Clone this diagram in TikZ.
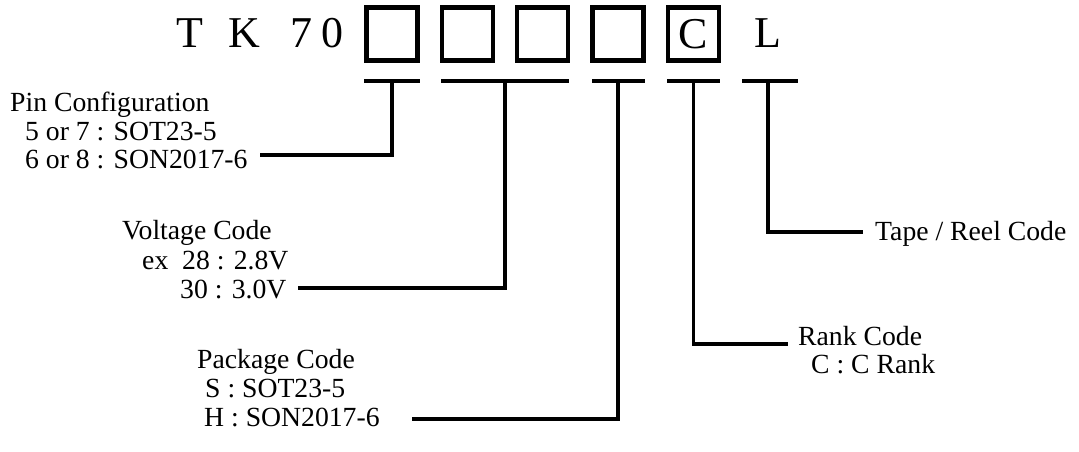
\documentclass[tikz,border=0pt]{standalone}
\usepackage{fontspec}
\setmainfont{Liberation Serif}
\tikzset{
  digit/.style={anchor=base west, inner sep=0pt, font=\fontsize{44}{48}\selectfont},
  slot/.style={draw, line width=4.5pt, minimum width=51pt, minimum height=53pt,
    inner sep=0pt, font=\fontsize{44}{48}\selectfont},
  code/.style={anchor=base west, inner sep=0pt, font=\fontsize{27.7}{30}\selectfont},
  lead/.style={line width=3.5pt, line join=miter},
}

\begin{document}
\begin{tikzpicture}[x=1pt,y=-1pt]
    \useasboundingbox (0,0) rectangle (1079,452);
    % part number
    \foreach \c/\x in {T/176,K/228,7/290,0/321}
      \node[digit] (d\c) at (\x,48) {\c};
    \foreach \n/\x in {1/392,2/467.5,3/542.5,4/618}
      \node[slot] (s\n) at (\x,34) {};
    \node[slot] (sC) at (693.5,34) {C};
    \node[digit,anchor=base] (dL) at (768,48) {L};
    % underlines
    \draw[lead] (364,81) -- (420,81);
    \draw[lead] (441,81) -- (569,81);
    \draw[lead] (592,81) -- (645,81);
    \draw[lead] (667,81) -- (720,81);
    \draw[lead] (742,81) -- (798,81);
    % leader ends
    \coordinate (pin)  at (260,155);
    \coordinate (volt) at (298,288);
    \coordinate (pack) at (412,419);
    \coordinate (rank) at (788,344);
    \coordinate (tape) at (863,232);
    \draw[lead] (s1.center |- 0,81) |- (pin);
    \draw[lead] (505,81) |- (volt);
    \draw[lead] (s4.center |- 0,81) |- (pack);
    \draw[lead] (sC.center |- 0,81) |- (rank);
    \draw[lead] (dL.center |- 0,81) |- (tape);
    % labels
    \node[code] (pinT) at (10,111) {Pin Configuration};
    \node[code] (pinA) at (25,140) {5 or 7 : SOT23-5};
    \node[code] (pinB) at (25,168) {6 or 8 : SON2017-6};
    \node[code] (voltT) at (122,239) {Voltage Code};
    \node[code] (voltA) at (142,269) {ex\ \ 28 : 2.8V};
    \node[code] (voltB) at (180,298) {30 : 3.0V};
    \node[code] (packT) at (197,368) {Package Code};
    \node[code] (packA) at (205,397) {S : SOT23-5};
    \node[code] (packB) at (204,426) {H : SON2017-6};
    \node[code] (rankT) at (798,345) {Rank Code};
    \node[code] (rankA) at (811,373) {C : C Rank};
    \node[code] (tapeT) at (875,240) {Tape / Reel Code};
\end{tikzpicture}
\end{document}
